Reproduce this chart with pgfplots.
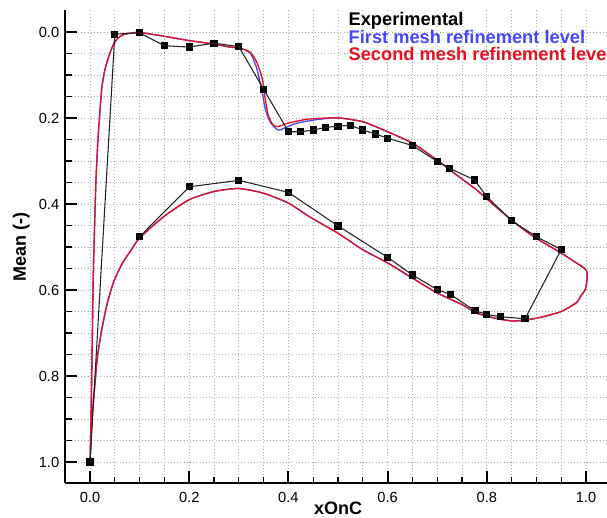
\documentclass[border=0pt]{standalone}
\usepackage{pgfplots}
\pgfplotsset{compat=1.18}
\usepackage{fontspec}
\setmainfont{Liberation Sans}
\definecolor{cfdred}{RGB}{228,18,30}
\definecolor{cfdblue}{RGB}{70,70,255}
\definecolor{expgray}{RGB}{35,35,35}
\begin{document}
\begin{tikzpicture}
\begin{axis}[
  set layers,
  x=372pt, y=322.5pt,
  y dir=reverse,
  xmin=-0.05, xmax=1.05, ymin=-0.05, ymax=1.05,
  axis x line=bottom, axis y line=left,
  every outer x axis line/.append style={-},
  every outer y axis line/.append style={-},
  every inner x axis line/.append style={-},
  every inner y axis line/.append style={-},
  axis line style={black, line width=1.5pt},
  xtick={0,0.2,...,1.0}, ytick={0,0.2,...,1.0},
  minor x tick num=3, minor y tick num=3,
  tick align=inside,
  major tick length=9pt, minor tick length=5pt,
  major tick style={black, line width=1.5pt},
  minor tick style={black, line width=1pt},
  grid=both,
  major grid style={gray!65, dotted, line width=0.6pt},
  minor grid style={gray!65, dotted, line width=0.6pt},
  /pgf/number format/assume math mode=true,
  tick label style={font=\fontsize{11}{13}\selectfont,
    /pgf/number format/fixed, /pgf/number format/fixed zerofill,
    /pgf/number format/precision=1},
  xticklabel style={yshift=-3pt},
  yticklabel style={xshift=-1pt},
  xlabel={xOnC}, ylabel={Mean (-)},
  label style={font=\bfseries\fontsize{13.5}{16}\selectfont},
  xlabel style={at={(axis description cs:0.5,0)}, anchor=north,
    inner sep=0pt, yshift=-14pt},
  legend image code/.code={},
  legend cell align=left,
  legend style={draw=none, fill=none, at={(axis description cs:0.519,0.996)},
    anchor=north west, inner sep=0pt, row sep=0pt,
    font=\bfseries\fontsize{13.7}{15}\selectfont,
    nodes={inner sep=0pt, text height=10pt, text depth=3.1pt}},
]
\coordinate (bbA) at (axis cs:-0.1815,1.128);
\coordinate (bbB) at (axis cs:1.0423,-0.0744);

% experimental
\addplot[expgray, line width=0.8pt, mark=square*, mark size=2.3pt,
  mark options={fill=black, draw=black}, on layer=axis foreground] coordinates {
  (0,1.0) (0.05,0.005) (0.1,0.002) (0.15,0.032) (0.2,0.035) (0.25,0.026)
  (0.3,0.034) (0.35,0.133) (0.4,0.232) (0.425,0.232) (0.45,0.228)
  (0.475,0.222) (0.5,0.219) (0.525,0.217) (0.55,0.228) (0.575,0.237)
  (0.6,0.247) (0.65,0.264) (0.7,0.301) (0.725,0.317) (0.775,0.344)
  (0.8,0.383) (0.85,0.439) (0.9,0.476) (0.95,0.506)
  (0.877,0.667) (0.827,0.662) (0.8,0.657) (0.776,0.648) (0.726,0.610)
  (0.7,0.599) (0.65,0.565) (0.6,0.524) (0.5,0.451) (0.4,0.373)
  (0.3,0.345) (0.2,0.36) (0.1,0.476)
};
\addlegendentry{\textcolor{black}{Experimental}}

% first mesh refinement level
\addplot[cfdblue, line width=1pt, smooth, tension=0.4] coordinates {
  (0.0,1.0) (0.002,0.9) (0.004,0.76) (0.006,0.6) (0.008,0.5) (0.010,0.42)
  (0.012,0.344) (0.016,0.25) (0.020,0.185) (0.024,0.128) (0.03,0.088)
  (0.04,0.049) (0.05,0.023) (0.06,0.011) (0.07,0.005) (0.087,0.002)
  (0.1,0.001) (0.15,0.01) (0.2,0.02) (0.25,0.028) (0.282,0.035)
  (0.302,0.037) (0.323,0.049) (0.336,0.084) (0.347,0.139) (0.353,0.177)
  (0.363,0.209) (0.379,0.228) (0.393,0.223) (0.417,0.212) (0.45,0.205)
  (0.478,0.201) (0.504,0.2) (0.551,0.209) (0.6,0.232) (0.651,0.259)
  (0.7,0.298) (0.726,0.321) (0.75,0.342) (0.776,0.364) (0.8,0.388)
  (0.825,0.413) (0.85,0.437) (0.875,0.46) (0.9,0.48) (0.925,0.497)
  (0.95,0.514) (0.975,0.533) (1.0,0.553)
  (1.002,0.577) (0.998,0.6) (0.99,0.613) (0.982,0.628) (0.965,0.641)
  (0.948,0.651) (0.907,0.664) (0.877,0.67) (0.853,0.672) (0.827,0.668)
  (0.8,0.661) (0.776,0.652) (0.75,0.634) (0.7,0.607) (0.651,0.573)
  (0.6,0.537) (0.551,0.507) (0.5,0.468) (0.443,0.43) (0.4,0.398)
  (0.35,0.375) (0.3,0.364) (0.25,0.371) (0.2,0.39) (0.148,0.43)
  (0.1,0.479) (0.083,0.507) (0.065,0.538) (0.048,0.58) (0.035,0.63)
  (0.024,0.69) (0.015,0.755) (0.009,0.83) (0.004,0.9) (0.0,1.0)
};
\addlegendentry{\textcolor{cfdblue}{First mesh refinement level}}

% second mesh refinement level
\addplot[cfdred, line width=1pt, smooth, tension=0.4] coordinates {
  (0.0,1.0) (0.002,0.9) (0.004,0.76) (0.006,0.6) (0.008,0.5) (0.010,0.42)
  (0.012,0.344) (0.016,0.25) (0.020,0.185) (0.024,0.128) (0.03,0.088)
  (0.04,0.049) (0.05,0.023) (0.06,0.011) (0.07,0.005) (0.087,0.002)
  (0.1,0.001) (0.15,0.01) (0.2,0.02) (0.25,0.028) (0.282,0.035)
  (0.302,0.038) (0.323,0.047) (0.336,0.07) (0.347,0.107) (0.353,0.153)
  (0.359,0.193) (0.369,0.216) (0.379,0.22) (0.399,0.212) (0.437,0.203)
  (0.478,0.2) (0.504,0.2) (0.551,0.209) (0.6,0.232) (0.651,0.259)
  (0.7,0.298) (0.726,0.321) (0.75,0.342) (0.776,0.364) (0.8,0.388)
  (0.825,0.413) (0.85,0.437) (0.875,0.46) (0.9,0.48) (0.925,0.497)
  (0.95,0.514) (0.975,0.533) (1.0,0.553)
  (1.002,0.577) (0.998,0.6) (0.99,0.613) (0.982,0.628) (0.965,0.641)
  (0.948,0.651) (0.907,0.664) (0.877,0.67) (0.853,0.672) (0.827,0.668)
  (0.8,0.661) (0.776,0.652) (0.75,0.634) (0.7,0.607) (0.651,0.573)
  (0.6,0.537) (0.551,0.507) (0.5,0.468) (0.443,0.43) (0.4,0.398)
  (0.35,0.375) (0.3,0.364) (0.25,0.371) (0.2,0.39) (0.148,0.43)
  (0.1,0.479) (0.083,0.507) (0.065,0.538) (0.048,0.58) (0.035,0.63)
  (0.024,0.69) (0.015,0.755) (0.009,0.83) (0.004,0.9) (0.0,1.0)
};
\addlegendentry{\textcolor{cfdred}{Second mesh refinement level}}
\end{axis}
\pgfresetboundingbox
\path[use as bounding box] (bbA) rectangle (bbB);
\end{tikzpicture}
\end{document}
